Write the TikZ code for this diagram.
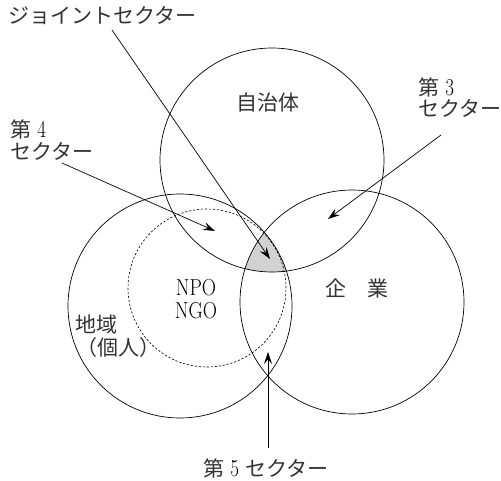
\documentclass[tikz,border=0pt]{standalone}
\usepackage{fontspec}
\usepackage{graphicx}
\newfontfamily\jp{Noto Sans CJK JP}
\newcommand{\dg}[1]{\makebox[1em]{\rmfamily\color{black}\scalebox{0.9}[1.15]{#1}}}
\usetikzlibrary{arrows.meta}
\begin{document}
\begin{tikzpicture}[x=1pt,y=-1pt,
  circ/.style={line width=0.7pt},
  dcirc/.style={line width=0.6pt, dash pattern=on 2.2pt off 1.8pt},
  ptr/.style={line width=0.7pt, -{Stealth[length=12pt,width=8pt,inset=4.5pt]}},
  jlbl/.style={inner sep=0pt, text=black!80, font=\jp\fontsize{21}{24}\selectfont},
  llbl/.style={inner sep=0pt, text=black, font=\fontsize{21}{24}\selectfont}]
\useasboundingbox (0,0) rectangle (501,480);
% shaded triple intersection
\begin{scope}
  \clip (272,160) circle (112);
  \clip (180,306) circle (112);
  \fill[gray!35] (352,302) circle (112);
\end{scope}
% circles
\node[circ, draw, circle, minimum size=224pt, inner sep=0pt] (gov) at (272,160) {};
\node[circ, draw, circle, minimum size=224pt, inner sep=0pt] (loc) at (180,306) {};
\node[circ, draw, circle, minimum size=224pt, inner sep=0pt] (biz) at (352,302) {};
\node[dcirc, draw, circle, minimum size=158pt, inner sep=0pt] (npo) at (207,288) {};
% labels
\node[jlbl, anchor=west] (tjoint) at (8,16) {ジョイントセクター};
\node[jlbl, anchor=west] (t4a) at (10,129) {第\dg{4}};
\node[jlbl, anchor=west] (t4b) at (10,151) {セクター};
\node[jlbl, anchor=west] (t3a) at (418,87) {第\dg{3}};
\node[jlbl, anchor=west] (t3b) at (418,108) {セクター};
\node[jlbl, anchor=west] (t5) at (203,468) {第\dg{5}セクター};
\node[jlbl] (tgov) at (268,103) {自治体};
\node[jlbl, anchor=west] (tbiz) at (325,288) {企　業};
\node[llbl] (tnpo) at (196,288) {\scalebox{0.94}[1.1]{NPO}};
\node[llbl] (tngo) at (196,311) {\scalebox{0.94}[1.1]{NGO}};
\node[jlbl, anchor=west] (tloc1) at (75,325) {地域};
\node[jlbl, anchor=west] (tloc2) at (76,348) {（個人）};
% arrow coordinates
\coordinate (j1) at (112,30);
\coordinate (j2) at (270,259);
\coordinate (f1) at (62,163);
\coordinate (f2) at (215,231);
\coordinate (s1) at (441,135);
\coordinate (s2) at (328,219);
\coordinate (v1) at (268,448);
\coordinate (v2) at (268,352);
\draw[ptr] (j1) -- (j2);
\draw[ptr] (f1) -- (f2);
\draw[ptr] (s1) -- (s2);
\draw[ptr] (v1) -- (v2);
\end{tikzpicture}
\end{document}
